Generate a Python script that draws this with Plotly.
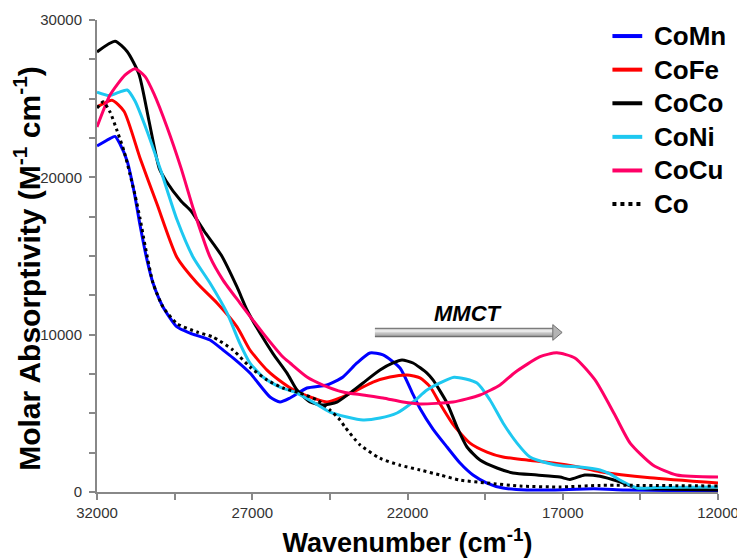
import plotly.graph_objects as go

# ---- data (wavenumber cm-1, molar absorptivity M-1 cm-1) ----
comn_x = [32000, 31600, 31420, 31260, 31030, 30810, 30615, 30390, 30196, 29874, 29423, 29005, 28361,
          27942, 27620, 27073, 26428, 26106, 25784, 25237, 24593, 24078, 23627, 23208, 22789, 22242,
          21823, 21597, 21179, 20728, 20309, 19891, 19440, 18924, 18151, 17314, 16000, 15000, 13500,
          12000]
comn_y = [22000, 22450, 22600, 22120, 21040, 19130, 16970, 14750, 13280, 11760, 10490, 10100, 9660,
          9025, 8520, 7560, 6040, 5720, 5975, 6610, 6800, 7310, 8200, 8835, 8710, 7880,
          6200, 5300, 4000, 2860, 1840, 1080, 570, 250, 130, 130, 200, 130, 90,
          80]

cofe_x = [32000, 31520, 31130, 30615, 30068, 29423, 28780, 28136, 27491, 27073, 26525, 26010, 25559,
          25044, 24593, 24174, 23627, 23111, 22564, 22016, 21597, 21275, 20950, 20534, 19987, 19440,
          18924, 18151, 17314, 16541, 15800, 14190, 12000]
cofe_y = [24470, 24900, 24200, 21230, 18300, 14900, 13280, 12010, 10500, 9025, 7750, 6930, 6360,
          5975, 5720, 5975, 6480, 6990, 7310, 7440, 7250, 6700, 5600, 4300, 3110, 2540,
          2220, 2030, 1840, 1600, 1290, 900, 570]

coco_x = [32000, 31420, 31030, 30650, 30325, 30000, 29775, 29295, 28970, 28550, 28000, 27491, 27169,
          26750, 26332, 25881, 25559, 25140, 24722, 24271, 23852, 23433, 22886, 22467, 22177, 21823,
          21372, 21179, 20728, 20406, 20084, 19665, 19118, 18602, 17829, 17089, 16770, 16290, 15800,
          15160, 14610, 13500, 12000]
coco_y = [27970, 28650, 28000, 26570, 23580, 20600, 19770, 18500, 17860, 16590, 15060, 13030, 11570,
          10100, 8800, 7560, 6480, 5720, 5530, 5720, 6290, 6930, 7750, 8200, 8390, 8200,
          7560, 7120, 5660, 4130, 2860, 2030, 1525, 1210, 1080, 950, 800, 1080, 1000,
          640, 250, 180, 130]

coni_x = [32000, 31600, 31300, 31030, 30776, 30390, 29940, 29423, 28908, 28361, 27813, 27400, 27073,
          26654, 26106, 25559, 25044, 24496, 23949, 23433, 22886, 22338, 21823, 21372, 20953, 20500,
          19762, 19343, 18924, 18473, 18055, 17507, 16992, 16445, 15800, 15480, 15160, 14610, 14000,
          12000]
coni_y = [25420, 25200, 25400, 25550, 24850, 22950, 20400, 17300, 14940, 13280, 11380, 9450, 8200,
          7310, 6670, 6290, 5720, 5080, 4770, 4580, 4700, 5020, 5720, 6480, 6930, 7300,
          6930, 5850, 4390, 3110, 2220, 1840, 1650, 1590, 1400, 1150, 760, 250, 280,
          320]

cocu_x = [32000, 31580, 31100, 30776, 30450, 30164, 29746, 29295, 28876, 28361, 27942, 27395, 26654,
          26010, 25784, 25237, 24722, 24078, 23433, 22789, 22145, 21597, 20534, 19665, 19021, 18540,
          17730, 17190, 16610, 15960, 15320, 14830, 14100, 13330, 12000]
cocu_y = [23200, 25230, 26500, 26900, 26400, 25300, 23200, 20600, 17860, 14940, 13470, 12010, 10100,
          8580, 8200, 7310, 6800, 6360, 6165, 5975, 5720, 5600, 5720, 6165, 6800, 7600,
          8600, 8850, 8520, 7120, 4890, 3110, 1720, 1080, 950]

co_x = [32000, 31800, 31580, 31350, 31130, 30940, 30776, 30615, 30455, 30196, 29874, 29423, 28780,
        28265, 27620, 27073, 26525, 26010, 25462, 24915, 24496, 24174, 24013, 23530, 22890, 22240,
        21597, 20953, 20309, 19440, 18377, 17089, 15800, 12000]
co_y = [24400, 24800, 24150, 22940, 21670, 20210, 18880, 17400, 15700, 13280, 11760, 10700, 10170,
        9850, 9025, 7945, 7120, 6610, 6290, 5850, 5210, 4580, 4130, 3000, 2150, 1700,
        1400, 1080, 760, 570, 380, 320, 420, 380]

series = [
    ("CoMn", comn_x, comn_y, "#0000FF", "solid"),
    ("CoFe", cofe_x, cofe_y, "#FF0000", "solid"),
    ("CoCo", coco_x, coco_y, "#000000", "solid"),
    ("CoNi", coni_x, coni_y, "#1EC8F0", "solid"),
    ("CoCu", cocu_x, cocu_y, "#FF0066", "solid"),
    ("Co", co_x, co_y, "#000000", "3px,3.5px"),
]

x_ticks = [32000, 27000, 22000, 17000, 12000]
y_ticks = [0, 10000, 20000, 30000]

arrow_start = 23050
arrow_end = 17020
arrow_y = 10140
label_text = "MMCT"

FONT = "Liberation Sans, Arial"

fig = go.Figure()
for name, xs, ys, col, dash in series:
    fig.add_trace(go.Scatter(x=xs, y=ys, name=name, mode="lines", showlegend=False,
                             line=dict(color=col, width=3, dash=dash, shape="spline", smoothing=0.6)))

# legend drawn as swatches + labels (paper coordinates, upper right)
leg_x0, leg_x1, leg_text_x = 0.830, 0.878, 0.893
leg_top, leg_step = 0.966, 0.0712
for i, (name, xs, ys, col, dash) in enumerate(series):
    yy = leg_top - i * leg_step
    fig.add_shape(type="line", xref="paper", yref="paper", x0=leg_x0, x1=leg_x1, y0=yy, y1=yy,
                  line=dict(color=col, width=4, dash="dot" if dash != "solid" else "solid"))
    fig.add_annotation(xref="paper", yref="paper", x=leg_text_x, y=yy, xanchor="left", yanchor="middle",
                       text=f"<b>{name}</b>", showarrow=False,
                       font=dict(family=FONT, size=26, color="#000"))

# gray shaded arrow (stripes imitate the gradient)
shaft_half = 300
head_len = 300
head_half = 500
greys = ["#7c7c7c", "#cfcfcf", "#ececec", "#d2d2d2", "#b0b0b0", "#959595", "#6e6e6e"]
n = len(greys)
for i, g in enumerate(greys):
    y_top = arrow_y + shaft_half - 2 * shaft_half * i / n
    y_bot = arrow_y + shaft_half - 2 * shaft_half * (i + 1) / n
    fig.add_shape(type="rect", xref="x", yref="y", x0=arrow_start, x1=arrow_end + head_len,
                  y0=y_bot, y1=y_top, fillcolor=g, line=dict(width=0), layer="above")
fig.add_shape(type="path", xref="x", yref="y",
              path=f"M {arrow_end + head_len},{arrow_y + head_half} L {arrow_end},{arrow_y} "
                   f"L {arrow_end + head_len},{arrow_y - head_half} Z",
              fillcolor="#b4b4b4", line=dict(color="#6e6e6e", width=1), layer="above")
fig.add_annotation(x=20050, y=11350, text=f"<b><i>{label_text}</i></b>",
                   showarrow=False, font=dict(family=FONT, size=22, color="#000"))

def axis_style(tick0, standoff):
    return dict(showline=True, linecolor="#888888", linewidth=2, ticks="outside",
                tickcolor="#888888", tickwidth=2, ticklen=6, showgrid=False, zeroline=False,
                tickfont=dict(family=FONT, size=15, color="#333333"),
                ticklabelstandoff=standoff,
                minor=dict(ticks="outside", ticklen=6, tickcolor="#888888", tickwidth=2,
                           dtick=2500, tick0=tick0))

fig.update_xaxes(range=[32000, 12000], tickvals=x_ticks, ticktext=[str(v) for v in x_ticks],
                 title=dict(text="<b>Wavenumber (cm<sup>-1</sup>)</b>", standoff=13,
                            font=dict(family=FONT, size=27, color="#000")),
                 **axis_style(12000, 0))
fig.update_yaxes(range=[0, 30000], tickvals=y_ticks, ticktext=[str(v) for v in y_ticks],
                 title=dict(text="<b>Molar Absorptivity (M<sup>-1</sup> cm<sup>-1</sup>)&nbsp;&nbsp;&nbsp;</b>",
                            standoff=5, font=dict(family=FONT, size=30, color="#000")),
                 **axis_style(0, 4))

# the page body has an 8px margin, so margins are offset to keep the plot area in place
fig.update_layout(
    width=745, height=559,
    margin=dict(l=89, r=35, t=12, b=75, autoexpand=False),
    plot_bgcolor="white", paper_bgcolor="white",
    showlegend=False,
)

fig.write_html("out.html")
